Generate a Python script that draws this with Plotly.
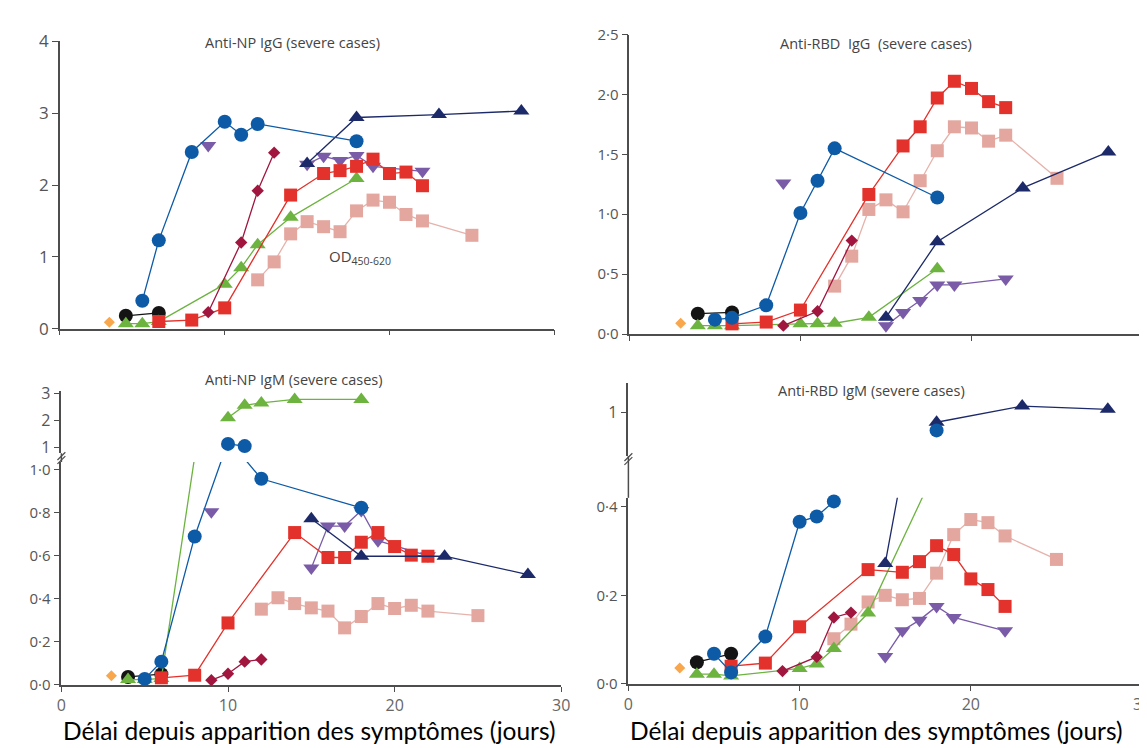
import plotly.graph_objects as go

W, H = 1147, 748

# ---------------- data: days since symptom onset ----------------
DAYS_ORANGE = [3]
DAYS_BLACK = [4, 6]
DAYS_BLUE = [5, 6, 8, 10, 11, 12, 18]
DAYS_GREEN = [4, 5, 6, 10, 11, 12, 14, 18]
DAYS_RED = [6, 8, 10, 14, 16, 17, 18, 19, 20, 21, 22]
DAYS_PINK = [12, 13, 14, 15, 16, 17, 18, 19, 20, 21, 22, 25]
DAYS_CRIMSON = [9, 11, 12, 13]
DAYS_CRIMSON_NP_IGM = [9, 10, 11, 12]
DAYS_CRIMSON_RBD_IGG = [9, 11, 13]
DAYS_PURPLE_SINGLE = [9]
DAYS_PURPLE = [15, 16, 17, 18, 19, 22]
DAYS_NAVY = [15, 18, 23, 28]

# ---------------- Anti-NP IgG (OD450-620) ----------------
NP_IGG_ORANGE = [0.09]
NP_IGG_BLACK = [0.18, 0.22]
NP_IGG_BLUE = [0.39, 1.23, 2.46, 2.88, 2.70, 2.85, 2.61]
NP_IGG_GREEN = [0.07, 0.07, 0.10, 0.62, 0.85, 1.17, 1.55, 2.09]
NP_IGG_RED = [0.10, 0.12, 0.29, 1.86, 2.16, 2.20, 2.26, 2.36, 2.16, 2.18, 1.99]
NP_IGG_PINK = [0.68, 0.93, 1.32, 1.49, 1.42, 1.35, 1.64, 1.79, 1.76, 1.59, 1.50, 1.30]
NP_IGG_CRIMSON = [0.23, 1.20, 1.92, 2.45]
NP_IGG_PURPLE_SINGLE = [2.55]
NP_IGG_PURPLE = [2.29, 2.40, 2.34, 2.41, 2.26, 2.19]
NP_IGG_NAVY = [2.30, 2.94, 2.98, 3.03]

# ---------------- Anti-RBD IgG ----------------
RBD_IGG_ORANGE = [0.09]
RBD_IGG_BLACK = [0.17, 0.18]
RBD_IGG_BLUE = [0.12, 0.135, 0.24, 1.01, 1.28, 1.55, 1.14]
RBD_IGG_GREEN = [0.07, 0.07, 0.07, 0.085, 0.085, 0.09, 0.14, 0.545]
RBD_IGG_RED = [0.085, 0.10, 0.20, 1.165, 1.57, 1.73, 1.97, 2.11, 2.05, 1.94, 1.89]
RBD_IGG_PINK = [0.40, 0.65, 1.04, 1.12, 1.02, 1.28, 1.53, 1.73, 1.72, 1.61, 1.66, 1.30]
RBD_IGG_CRIMSON = [0.07, 0.19, 0.78]
RBD_IGG_PURPLE_SINGLE = [1.26]
RBD_IGG_PURPLE = [0.07, 0.18, 0.28, 0.41, 0.41, 0.46]
RBD_IGG_NAVY = [0.14, 0.77, 1.22, 1.52]

# ---------------- Anti-NP IgM ----------------
NP_IGM_ORANGE = [0.043]
NP_IGM_BLACK = [0.037, 0.05]
NP_IGM_BLUE = [0.028, 0.108, 0.69, 1.13, 1.05, 0.958, 0.823]
NP_IGM_GREEN = [0.025, 0.025, 0.03, 2.09, 2.55, 2.64, 2.77, 2.77]
NP_IGM_RED = [0.033, 0.045, 0.288, 0.708, 0.592, 0.592, 0.663, 0.708, 0.643, 0.603, 0.598]
NP_IGM_PINK = [0.352, 0.405, 0.378, 0.358, 0.343, 0.265, 0.318, 0.378, 0.355, 0.37, 0.343, 0.322]
NP_IGM_CRIMSON = [0.022, 0.052, 0.108, 0.118]
NP_IGM_PURPLE_SINGLE = [0.805]
NP_IGM_PURPLE = [0.543, 0.738, 0.738, 0.81, 0.67, 0.60]
NP_IGM_NAVY = [0.772, 0.598, 0.598, 0.513]

# ---------------- Anti-RBD IgM ----------------
RBD_IGM_ORANGE = [0.036]
RBD_IGM_BLACK = [0.049, 0.068]
RBD_IGM_BLUE = [0.068, 0.026, 0.107, 0.366, 0.378, 0.412, 0.816]
RBD_IGM_GREEN = [0.022, 0.022, 0.018, 0.035, 0.045, 0.08, 0.16, 0.489]
RBD_IGM_RED = [0.04, 0.047, 0.129, 0.258, 0.252, 0.276, 0.312, 0.292, 0.237, 0.213, 0.175]
RBD_IGM_PINK = [0.102, 0.135, 0.185, 0.20, 0.19, 0.193, 0.25, 0.337, 0.371, 0.364, 0.334, 0.281]
RBD_IGM_CRIMSON = [0.029, 0.061, 0.15, 0.161]
RBD_IGM_PURPLE_SINGLE = [0.445]
RBD_IGM_PURPLE = [0.062, 0.12, 0.144, 0.175, 0.15, 0.12]
RBD_IGM_NAVY = [0.272, 0.90, 1.067, 1.033]

X_TICKS = [0, 10, 20, 30]
X_TICKTEXT = ["0", "10", "20", "30"]
TITLES = ["Anti-NP IgG (severe cases)", "Anti-RBD\u00a0 IgG\u00a0 (severe cases)",
          "Anti-NP IgM (severe cases)", "Anti-RBD IgM (severe cases)"]
X_LABEL = "Délai depuis apparition des symptômes (jours)"

# ---------------- styles ----------------
STYLE = {
    "pink":    dict(color="#e3a79f", line="#e6b2ab", symbol="square", size=13),
    "purple1": dict(color="#7a5ba8", line="#7a5ba8", symbol="triangle-down", size=14),
    "purple":  dict(color="#7a5ba8", line="#7a5ba8", symbol="triangle-down", size=14),
    "black":   dict(color="#141414", line="#141414", symbol="circle", size=14),
    "green":   dict(color="#6cb33f", line="#6cb33f", symbol="triangle-up", size=14),
    "red":     dict(color="#e3322b", line="#e3322b", symbol="square", size=13),
    "crimson": dict(color="#a0163f", line="#a0163f", symbol="diamond", size=9.5),
    "navy":    dict(color="#1c2a6a", line="#1c2a6a", symbol="triangle-up", size=14),
    "blue":    dict(color="#0d5aa6", line="#0d5aa6", symbol="circle", size=14),
    "orange":  dict(color="#f8a74c", line="#f8a74c", symbol="diamond", size=8.5),
}


def series_list(orange, black, blue, green, red, pink, crimson, crimson_days,
                purple1, purple, navy):
    return [
        ("pink", DAYS_PINK, pink),
        ("purple1", DAYS_PURPLE_SINGLE, purple1),
        ("purple", DAYS_PURPLE, purple),
        ("black", DAYS_BLACK, black),
        ("green", DAYS_GREEN, green),
        ("red", DAYS_RED, red),
        ("crimson", crimson_days, crimson),
        ("navy", DAYS_NAVY, navy),
        ("blue", DAYS_BLUE, blue),
        ("orange", DAYS_ORANGE, orange),
    ]


NP_IGG = series_list(NP_IGG_ORANGE, NP_IGG_BLACK, NP_IGG_BLUE, NP_IGG_GREEN, NP_IGG_RED,
                     NP_IGG_PINK, NP_IGG_CRIMSON, DAYS_CRIMSON, NP_IGG_PURPLE_SINGLE,
                     NP_IGG_PURPLE, NP_IGG_NAVY)
RBD_IGG = series_list(RBD_IGG_ORANGE, RBD_IGG_BLACK, RBD_IGG_BLUE, RBD_IGG_GREEN, RBD_IGG_RED,
                      RBD_IGG_PINK, RBD_IGG_CRIMSON, DAYS_CRIMSON_RBD_IGG, RBD_IGG_PURPLE_SINGLE,
                      RBD_IGG_PURPLE, RBD_IGG_NAVY)
NP_IGM = series_list(NP_IGM_ORANGE, NP_IGM_BLACK, NP_IGM_BLUE, NP_IGM_GREEN, NP_IGM_RED,
                     NP_IGM_PINK, NP_IGM_CRIMSON, DAYS_CRIMSON_NP_IGM, NP_IGM_PURPLE_SINGLE,
                     NP_IGM_PURPLE, NP_IGM_NAVY)
RBD_IGM = series_list(RBD_IGM_ORANGE, RBD_IGM_BLACK, RBD_IGM_BLUE, RBD_IGM_GREEN, RBD_IGM_RED,
                      RBD_IGM_PINK, RBD_IGM_CRIMSON, DAYS_CRIMSON, RBD_IGM_PURPLE_SINGLE,
                      RBD_IGM_PURPLE, RBD_IGM_NAVY)


def fx(px):
    return px / W


def fy(py):
    return 1 - py / H


fig = go.Figure()


def add_simple(xa, ya, series):
    for key, days, vals in series:
        st = STYLE[key]
        fig.add_trace(go.Scatter(
            x=days, y=vals, mode="lines+markers", xaxis=xa, yaxis=ya,
            line=dict(color=st["line"], width=1.3),
            marker=dict(symbol=st["symbol"], size=st["size"], color=st["color"]),
            cliponaxis=False, showlegend=False, hoverinfo="skip"))


def add_broken(xlo, ylo, xhi, yhi, series, thr):
    for key, days, vals in series:
        st = STYLE[key]
        if len(days) > 1:
            fig.add_trace(go.Scatter(
                x=days, y=vals, mode="lines", xaxis=xlo, yaxis=ylo,
                line=dict(color=st["line"], width=1.3),
                showlegend=False, hoverinfo="skip"))
        lo = [(d, v) for d, v in zip(days, vals) if v <= thr]
        if lo:
            fig.add_trace(go.Scatter(
                x=[p[0] for p in lo], y=[p[1] for p in lo], mode="markers",
                xaxis=xlo, yaxis=ylo, cliponaxis=False,
                marker=dict(symbol=st["symbol"], size=st["size"], color=st["color"]),
                showlegend=False, hoverinfo="skip"))
        xs, ys, prev = [], [], False
        for d, v in zip(days, vals):
            if v > thr:
                if xs and not prev:
                    xs.append(None)
                    ys.append(None)
                xs.append(d)
                ys.append(v)
                prev = True
            else:
                prev = False
        if xs:
            fig.add_trace(go.Scatter(
                x=xs, y=ys, mode="lines+markers", xaxis=xhi, yaxis=yhi,
                connectgaps=False, cliponaxis=False,
                line=dict(color=st["line"], width=1.3),
                marker=dict(symbol=st["symbol"], size=st["size"], color=st["color"]),
                showlegend=False, hoverinfo="skip"))


add_simple("x", "y", NP_IGG)
add_simple("x2", "y2", RBD_IGG)
add_broken("x3", "y3", "x4", "y4", NP_IGM, 1.0)
add_broken("x5", "y5", "x6", "y6", RBD_IGM, 0.5)

AX = "#4d4d4d"
TICK_FONT = "Open Sans"


def xaxis(dom, anchor, labels, visible=True):
    return dict(domain=dom, anchor=anchor, range=[0, 30], showgrid=False, zeroline=False,
                showline=True, linecolor=AX, linewidth=1.5, ticks="outside",
                ticklen=5, tickwidth=1.3, tickcolor=AX, tickvals=X_TICKS,
                ticktext=X_TICKTEXT, showticklabels=labels, visible=visible,
                tickfont=dict(family=TICK_FONT, size=16, color="#666666"),
                layer="below traces", fixedrange=True)


def yaxis(dom, anchor, rng, vals, text, size=15):
    return dict(domain=dom, anchor=anchor, range=rng, showgrid=False, zeroline=False,
                showline=True, linecolor=AX, linewidth=1.5, ticks="outside",
                ticklen=6, tickwidth=1.3, tickcolor=AX, tickvals=vals, ticktext=text,
                tickfont=dict(family=TICK_FONT, size=size, color="#555555"),
                layer="below traces", fixedrange=True)


TL_X = [fx(47.5), fx(548)]
TR_X = [fx(624), fx(1143.5)]
BL_X = [fx(49), fx(555)]
BR_X = [fx(623), fx(1143)]

fig.update_layout(
    width=W, height=H, margin=dict(l=0, r=0, t=0, b=0),
    paper_bgcolor="white", plot_bgcolor="rgba(0,0,0,0)",
    xaxis=xaxis(TL_X, "y", False),
    yaxis=yaxis([fy(318.5), fy(22)], "x", [0, 4], [0, 1, 2, 3, 4],
                ["0", "1", "2", "3", "4"], size=17),
    xaxis2=xaxis(TR_X, "y2", False),
    yaxis2=yaxis([fy(324), fy(15)], "x2", [0, 2.5], [0, 0.5, 1, 1.5, 2, 2.5],
                 ["0·0", "0·5", "1·0", "1·5", "2·0", "2·5"]),
    xaxis3=xaxis(BL_X, "y3", True),
    yaxis3=yaxis([fy(686), fy(456)], "x3", [0, 1.036], [0, 0.2, 0.4, 0.6, 0.8, 1.0],
                 ["0·0", "0·2", "0·4", "0·6", "0·8", "1·0"]),
    xaxis4=xaxis(BL_X, "y4", False, visible=False),
    yaxis4=yaxis([fy(447), fy(383)], "x4", [0.786, 3.071], [1, 2, 3], ["1", "2", "3"], size=16),
    xaxis5=xaxis(BR_X, "y5", True),
    yaxis5=yaxis([fy(685), fy(493)], "x5", [0, 0.42], [0, 0.2, 0.4],
                 ["0·0", "0·2", "0·4"]),
    xaxis6=xaxis(BR_X, "y6", False, visible=False),
    yaxis6=yaxis([fy(450), fy(375)], "x6", [0.55, 1.30], [1], ["1"], size=16),
)

# ---------------- annotations ----------------
title_font = dict(family="Open Sans", size=14.5, color="#444444")
ann = []
for text, px, py in zip(TITLES, [283, 874, 284, 869], [23, 24, 371, 382]):
    ann.append(dict(text=text, x=fx(px), y=fy(py), xref="paper", yref="paper",
                    showarrow=False, font=title_font, xanchor="center", yanchor="middle"))
ann.append(dict(text="OD<sub>450-620</sub>", x=18.2, y=1.0, xref="x", yref="y",
                showarrow=False, font=dict(family="Open Sans", size=15, color="#444444"),
                xanchor="center", yanchor="middle"))
for px in [300, 874]:
    ann.append(dict(text=X_LABEL, x=fx(px), y=fy(733), xref="paper", yref="paper",
                    showarrow=False, font=dict(family="Lato", size=24.5, color="#000000"),
                    xanchor="center", yanchor="middle"))
fig.update_layout(annotations=ann)

# ---------------- axis breaks ----------------
shapes = []
line_style = dict(color=AX, width=1.5)
# continuous axis line through the break
shapes.append(dict(type="line", xref="paper", yref="paper", x0=fx(49), x1=fx(49),
                   y0=fy(456), y1=fy(447), line=line_style))
shapes.append(dict(type="line", xref="paper", yref="paper", x0=fx(623), x1=fx(623),
                   y0=fy(493), y1=fy(450), line=line_style))
for ax_x, yb in [(49, 452), (623, 453)]:
    for off in (-2, 2):
        shapes.append(dict(type="line", xref="paper", yref="paper",
                           x0=fx(ax_x - 4), y0=fy(yb + off + 4),
                           x1=fx(ax_x + 4), y1=fy(yb + off - 4),
                           line=dict(color=AX, width=1.2)))
fig.update_layout(shapes=shapes)

fig.write_html("out.html")
